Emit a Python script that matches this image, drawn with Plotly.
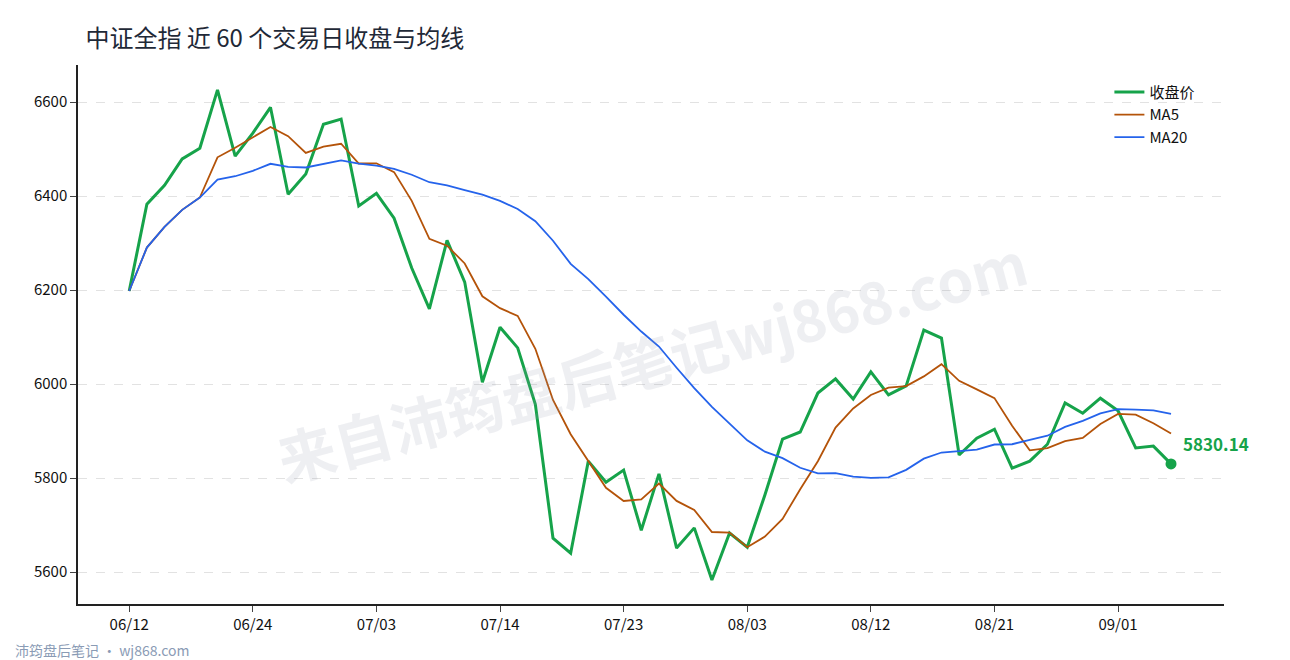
import plotly.graph_objects as go
import pandas as pd

dates = ["06/12", "06/13", "06/16", "06/17", "06/18", "06/19", "06/23", "06/24",
         "06/25", "06/26", "06/27", "06/30", "07/01", "07/02", "07/03",
         "07/04", "07/07", "07/08", "07/09", "07/10", "07/11", "07/14",
         "07/15", "07/16", "07/17", "07/18", "07/21", "07/22", "07/23",
         "07/24", "07/25", "07/28", "07/29", "07/30", "07/31", "08/03",
         "08/04", "08/05", "08/06", "08/07", "08/08", "08/11", "08/12",
         "08/13", "08/14", "08/15", "08/18", "08/19", "08/20", "08/21",
         "08/22", "08/25", "08/26", "08/27", "08/28", "08/29", "09/01",
         "09/02", "09/03", "09/04"]

close = [6198, 6383, 6423, 6479, 6502, 6626, 6485, 6534, 6589, 6404,
         6447, 6553, 6564, 6379, 6406, 6353, 6247, 6160, 6306, 6217,
         6004, 6121, 6077, 5957, 5672, 5640, 5836, 5791, 5817, 5689,
         5809, 5651, 5694, 5583, 5683, 5653, 5764, 5883, 5898, 5981,
         6011, 5968, 6026, 5977, 5996, 6115, 6098, 5849, 5885, 5904,
         5821, 5836, 5872, 5960, 5938, 5970, 5943, 5864, 5868, 5830.14]

tick_labels = ["06/12", "06/24", "07/03", "07/14", "07/23", "08/03", "08/12", "08/21", "09/01"]
y_ticks = [5600, 5800, 6000, 6200, 6400, 6600]

s = pd.Series(close)
ma5 = s.rolling(5, min_periods=1).mean()
ma20 = s.rolling(20, min_periods=1).mean()

fig = go.Figure()

fig.add_trace(go.Scatter(x=dates, y=close, name="收盘价", mode="lines",
                         line=dict(color="#16a34a", width=3)))
fig.add_trace(go.Scatter(x=dates, y=ma5, name="MA5", mode="lines",
                         line=dict(color="#b45309", width=1.8)))
fig.add_trace(go.Scatter(x=dates, y=ma20, name="MA20", mode="lines",
                         line=dict(color="#2563eb", width=1.8)))
fig.add_trace(go.Scatter(x=[dates[-1]], y=[close[-1]], mode="markers",
                         marker=dict(color="#16a34a", size=11), showlegend=False))

fig.add_annotation(x=dates[-1], y=close[-1], text="<b>%.2f</b>" % close[-1],
                   showarrow=False, xanchor="left", yanchor="bottom",
                   xshift=10, yshift=6, font=dict(size=17, color="#16a34a"))

# watermark
fig.add_annotation(x=0.5, y=0.72, xref="paper", yref="paper",
                   text="<b>来自沛筠盘后笔记wj868.com</b>", showarrow=False,
                   textangle=-15, font=dict(size=58, color="rgba(150,155,175,0.16)"))
# footer
fig.add_annotation(x=0, y=0, xref="paper", yref="paper", xanchor="left", yanchor="top",
                   xshift=-65, yshift=-34,
                   text="沛筠盘后笔记 · wj868.com", showarrow=False,
                   font=dict(size=14, color="#8a9bb5"))

fig.update_layout(
    width=1290,
    height=660,
    title=dict(text="中证全指 近 60 个交易日收盘与均线", x=0.06, y=0.967,
               font=dict(size=24, color="#1f2937")),
    font=dict(family="Noto Sans CJK SC, Noto Sans", color="#111"),
    plot_bgcolor="white",
    paper_bgcolor="white",
    margin=dict(l=70, r=74, t=57, b=64),
    legend=dict(x=0.9, y=0.98, xanchor="left", yanchor="top",
                font=dict(size=15), bgcolor="rgba(0,0,0,0)"),
    xaxis=dict(
        type="category",
        range=[-2.9, 62.0],
        tickmode="array",
        tickvals=tick_labels,
        ticktext=tick_labels,
        showgrid=False,
        showline=True,
        linecolor="#222",
        linewidth=1.5,
        ticks="outside",
        ticklen=6,
        tickfont=dict(size=15, color="#111"),
    ),
    yaxis=dict(
        range=[5532, 6679],
        tickvals=y_ticks,
        showgrid=True,
        gridcolor="#e2e2e2",
        griddash="dash",
        zeroline=False,
        showline=True,
        linecolor="#222",
        linewidth=1.5,
        ticks="outside",
        ticklen=6,
        tickfont=dict(size=15, color="#111"),
    ),
)

fig.write_html("out.html")
